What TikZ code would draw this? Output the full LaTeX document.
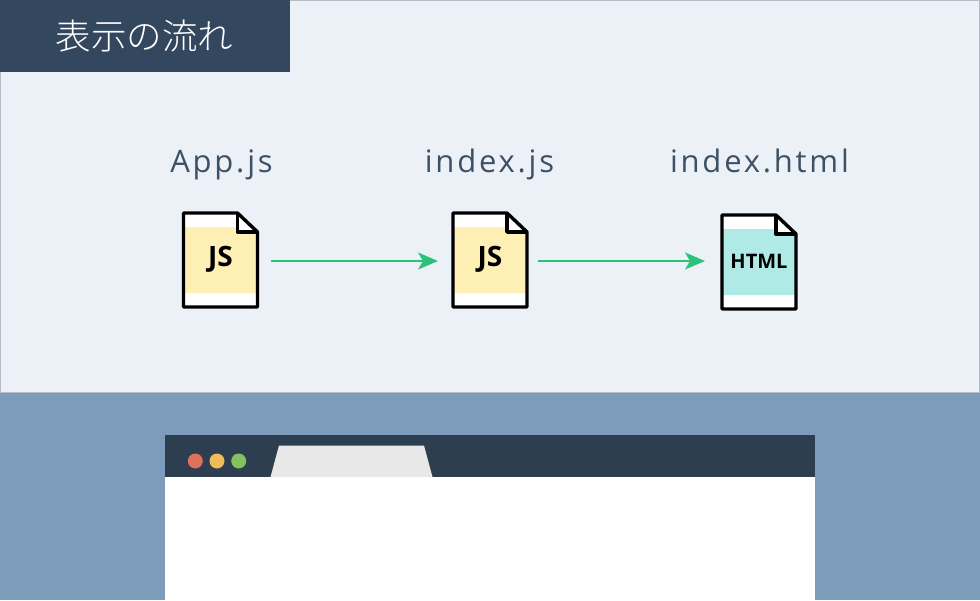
\documentclass[tikz,border=0pt]{standalone}
\usepackage{fontspec}
\setmainfont{Open Sans}
\newfontfamily\jpfont{Noto Sans CJK JP Light}
\newfontfamily\namefont[LetterSpace=9]{Open Sans}
\newfontfamily\iconfont{Open Sans Bold}
\usetikzlibrary{arrows.meta}
\definecolor{panel}{HTML}{ECF1F7}
\definecolor{panelline}{HTML}{B5BCC4}
\definecolor{lowblue}{HTML}{7D9BBB}
\definecolor{headblue}{HTML}{33475F}
\definecolor{barblue}{HTML}{2C3E50}
\definecolor{namegray}{HTML}{3D5166}
\definecolor{flowgreen}{HTML}{2BC27A}
\definecolor{jsyellow}{HTML}{FEF0B5}
\definecolor{htmlteal}{HTML}{B0EAE6}
\definecolor{dotred}{HTML}{DF705C}
\definecolor{dotyellow}{HTML}{F0BB5B}
\definecolor{dotgreen}{HTML}{85C25F}
\tikzset{
	filename/.style={text=namegray,font=\namefont\fontsize{31}{31}\selectfont,inner sep=0pt,anchor=base},
	iconlabel/.style={text=black,font=\iconfont\fontsize{#1}{#1}\selectfont,inner sep=0pt},
	flow/.style={draw=flowgreen,line width=1.5pt,-{Stealth[length=20pt,width=17pt,inset=5pt]}},
	dot/.style={circle,minimum size=15pt,inner sep=0pt},
	pics/docfile/.style={code={
		\fill[white] (1,1) -- (55,1) -- (75,20) -- (75,95) -- (1,95) -- cycle;
		\fill[#1] (1,15) -- (55,15) -- (55,20) -- (75,20) -- (75,81) -- (1,81) -- cycle;
		\draw[line width=3.4pt,line join=round] (1,1) -- (55,1) -- (75,20) -- (75,95) -- (1,95) -- cycle;
		\draw[line width=3.4pt,line join=round] (55,1) -- (55,20) -- (75,20);
	}}
}
\begin{document}
\begin{tikzpicture}[x=1pt,y=-1pt]
	\useasboundingbox (0,0) rectangle (980,600);
	
	\fill[lowblue] (0,0) rectangle (980,600);
	\filldraw[fill=panel,draw=panelline,line width=1pt] (0.5,0.5) rectangle (979.5,392);
	\fill[headblue] (0,0) rectangle (290,72);
	\node[text=white,font=\jpfont\fontsize{35.5}{35.5}\selectfont,inner sep=0pt] (title) at (144.5,36.5) {表示の流れ};
	
	\node[filename] (appname) at (221.5,172) {App.js};
	\node[filename] (indexname) at (489.5,172) {index.js};
	\node[filename] (htmlname) at (759.5,172) {index.html};
	
	\pic at (182.5,212) {docfile=jsyellow};
	\pic at (452,212) {docfile=jsyellow};
	\pic at (721,214) {docfile=htmlteal};
	\node[iconlabel=28] (appicon) at (220.5,259.5) {JS};
	\node[iconlabel=28] (indexicon) at (490,259.5) {JS};
	\node[iconlabel=20] (htmlicon) at (759,261) {HTML};
	
	\coordinate (appout) at (271,261);
	\coordinate (indexin) at (438,261);
	\coordinate (indexout) at (538,261);
	\coordinate (htmlin) at (705,261);
	\draw[flow] (appout) -- (indexin);
	\draw[flow] (indexout) -- (htmlin);
	
	\fill[white] (165,470) rectangle (815,600);
	\fill[barblue] (165,435) rectangle (815,477);
	\fill[black!9] (270.5,477) -- (279,445.5) -- (424,445.5) -- (432.5,477) -- cycle;
	\node[dot,fill=dotred] (reddot) at (195.3,461) {};
	\node[dot,fill=dotyellow] (yellowdot) at (217,461) {};
	\node[dot,fill=dotgreen] (greendot) at (238.7,461) {};
	
\end{tikzpicture}
\end{document}
